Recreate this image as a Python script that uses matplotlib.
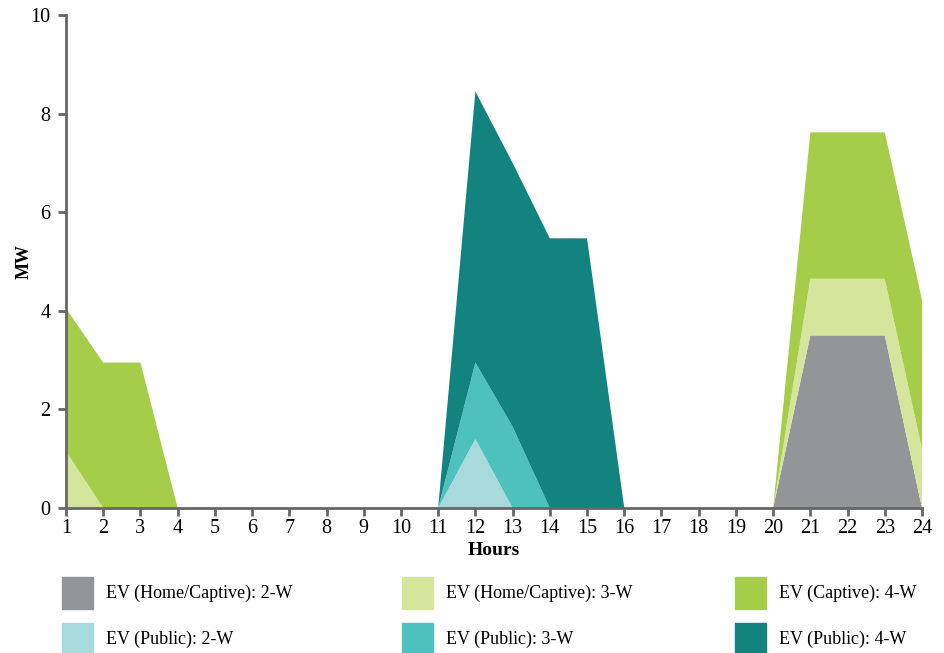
import numpy as np
import matplotlib
matplotlib.use("Agg")
import matplotlib.pyplot as plt
from matplotlib.patches import Rectangle

# hourly load per category (MW), stacked
hours = list(range(1, 25))
home_2w = [0, 0, 0, 0, 0, 0, 0, 0, 0, 0, 0, 0, 0, 0, 0, 0, 0, 0, 0, 0, 3.5, 3.5, 3.5, 0]
home_3w = [1.15, 0, 0, 0, 0, 0, 0, 0, 0, 0, 0, 0, 0, 0, 0, 0, 0, 0, 0, 0, 1.15, 1.15, 1.15, 1.2]
captive_4w = [2.9, 2.95, 2.95, 0, 0, 0, 0, 0, 0, 0, 0, 0, 0, 0, 0, 0, 0, 0, 0, 0, 2.97, 2.97, 2.97, 3.02]
public_2w = [0, 0, 0, 0, 0, 0, 0, 0, 0, 0, 0, 1.4, 0, 0, 0, 0, 0, 0, 0, 0, 0, 0, 0, 0]
public_3w = [0, 0, 0, 0, 0, 0, 0, 0, 0, 0, 0, 1.55, 1.65, 0, 0, 0, 0, 0, 0, 0, 0, 0, 0, 0]
public_4w = [0, 0, 0, 0, 0, 0, 0, 0, 0, 0, 0, 5.5, 5.35, 5.47, 5.47, 0, 0, 0, 0, 0, 0, 0, 0, 0]

labels = ["EV (Home/Captive): 2-W", "EV (Home/Captive): 3-W", "EV (Captive): 4-W",
          "EV (Public): 2-W", "EV (Public): 3-W", "EV (Public): 4-W"]
colors = ["#939598", "#d6e59c", "#a5cd4a", "#a8dadb", "#4fc1bd", "#138380"]

plt.rcParams['font.family'] = ['Liberation Serif', 'DejaVu Serif']

fig = plt.figure(figsize=(9.45, 6.53), dpi=100)
ax = fig.add_axes([66 / 945, 1 - 508 / 653, (922 - 66) / 945, (508 - 15) / 653])

series = [home_2w, home_3w, captive_4w, public_2w, public_3w, public_4w]
ax.stackplot(hours, *series, colors=colors, linewidth=0)

ax.set_xlim(1, 24)
ax.set_ylim(0, 10)
ax.set_xticks(hours)
ax.set_yticks([0, 2, 4, 6, 8, 10])

for side in ['top', 'right']:
    ax.spines[side].set_visible(False)
for side in ['left', 'bottom']:
    ax.spines[side].set_color('#666666')
    ax.spines[side].set_linewidth(2)
ax.tick_params(axis='both', colors='#666666', width=2, length=6,
               labelcolor='black', labelsize=14.5)
ax.tick_params(axis='x', pad=2)
ax.tick_params(axis='y', pad=5)

ax.set_ylabel("MW", fontsize=13, fontweight='bold')
ax.yaxis.set_label_coords(-0.039, 0.5)
ax.set_xlabel("Hours", fontsize=14, fontweight='bold', labelpad=3)

# legend drawn by hand, three columns by two rows
col_x = [62, 402, 735]
row_y = [593, 639]
for i, (lab, c) in enumerate(zip(labels, colors)):
    x = col_x[i % 3]
    y = row_y[i // 3]
    fig.patches.append(Rectangle((x / 945, 1 - (y + 16) / 653), 31 / 945, 32 / 653,
                                 transform=fig.transFigure, color=c))
    fig.text((x + 44) / 945, 1 - y / 653, lab, fontsize=13, va='center', ha='left')

fig.savefig("out.png", dpi=100)
